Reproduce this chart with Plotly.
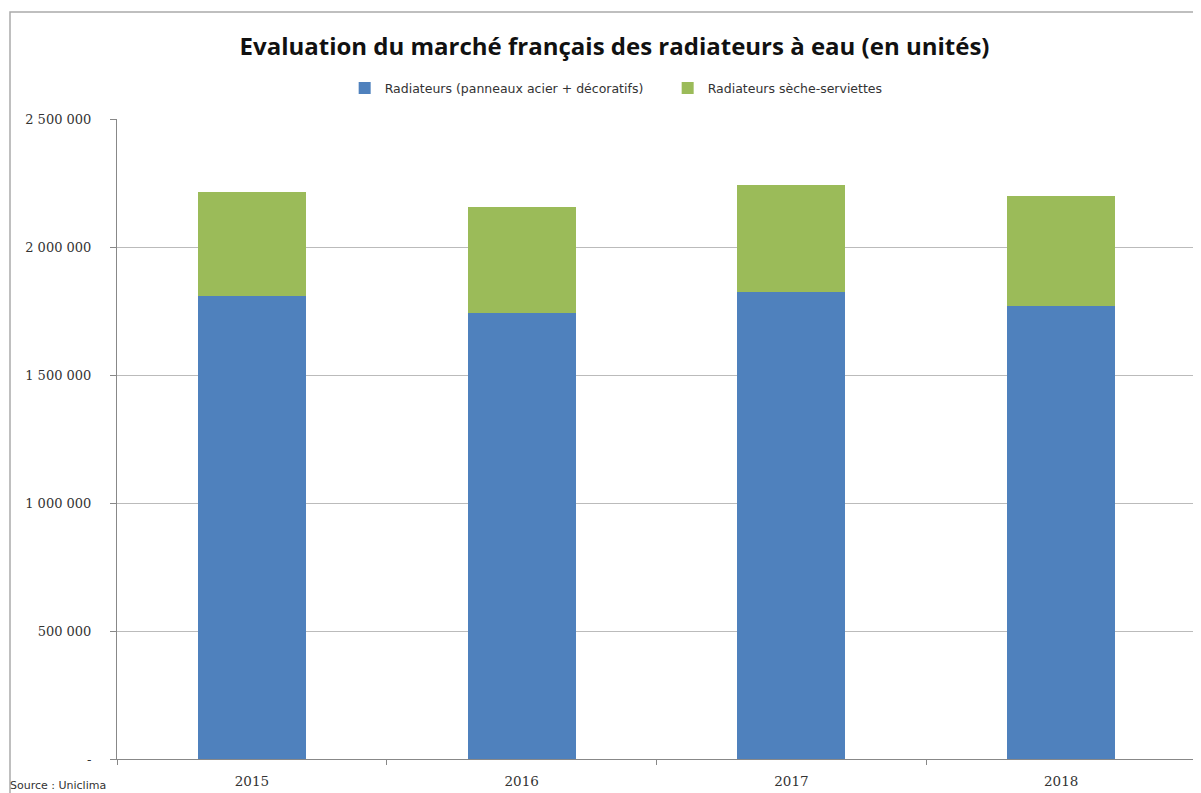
import plotly.graph_objects as go

years = ["2015", "2016", "2017", "2018"]
radiateurs = [1809000, 1742000, 1824000, 1770000]
seche_serviettes = [406000, 414000, 418000, 429000]

y_ticks = [0, 500000, 1000000, 1500000, 2000000, 2500000]
y_labels = ["-", "500 000", "1 000 000", "1 500 000", "2 000 000", "2 500 000"]

fig = go.Figure()
fig.add_trace(go.Bar(
    x=years, y=radiateurs,
    name="Radiateurs (panneaux acier + décoratifs)",
    marker=dict(color="#4F81BD", line=dict(width=0)),
))
fig.add_trace(go.Bar(
    x=years, y=seche_serviettes,
    name="Radiateurs sèche-serviettes",
    marker=dict(color="#9BBB59", line=dict(width=0)),
))

# the page adds an 8px body margin, so plot-area offsets are reduced by 8
fig.update_layout(
    barmode="stack",
    bargap=0.6,
    width=1201,
    height=793,
    margin=dict(l=109, r=13, t=111, b=42),
    paper_bgcolor="white",
    plot_bgcolor="white",
    font=dict(family="DejaVu Serif", size=12, color="#333333"),
    title=dict(
        text="<b>Evaluation du marché français des radiateurs à eau (en unités)</b>",
        x=0.505, xanchor="center", y=1 - 39 / 793, yanchor="middle",
        font=dict(family="Open Sans", size=24, color="#111111"),
    ),
    legend=dict(
        orientation="h", x=0.211, xanchor="left", y=1.048, yanchor="middle",
        font=dict(family="DejaVu Sans", size=12.5, color="#333333"),
        traceorder="normal", itemwidth=30, entrywidth=278,
    ),
    xaxis=dict(
        showline=True, linecolor="#888888", linewidth=1,
        ticks="outside", ticklen=5, tickcolor="#888888",
        tickson="boundaries", showgrid=False,
        ticklabelstandoff=10,
        tickfont=dict(family="DejaVu Serif", size=13.5, color="#333333"),
    ),
    yaxis=dict(
        range=[0, 2500000],
        tickvals=y_ticks, ticktext=y_labels,
        showline=True, linecolor="#888888", linewidth=1,
        ticks="outside", ticklen=6, tickcolor="#888888",
        showgrid=True, gridcolor="#BBBBBB", gridwidth=1,
        zeroline=False,
        ticklabelstandoff=16,
        tickfont=dict(family="DejaVu Serif", size=13, color="#333333"),
    ),
)

# outer chart frame (extends past the picture on right and bottom)
fig.add_shape(
    type="rect", xref="paper", yref="paper",
    x0=(10 - 117) / 1079, x1=1.2, y0=-0.2, y1=(759 - 12) / 640,
    line=dict(color="#AAAAAA", width=1.5), fillcolor="rgba(0,0,0,0)",
    layer="below",
)

fig.add_annotation(
    text="Source : Uniclima", xref="paper", yref="paper",
    x=(8 - 117) / 1079, xanchor="left", y=(759 - 785) / 640, yanchor="middle",
    showarrow=False, font=dict(family="DejaVu Sans", size=11, color="#333333"),
)

fig.write_html("out.html")
